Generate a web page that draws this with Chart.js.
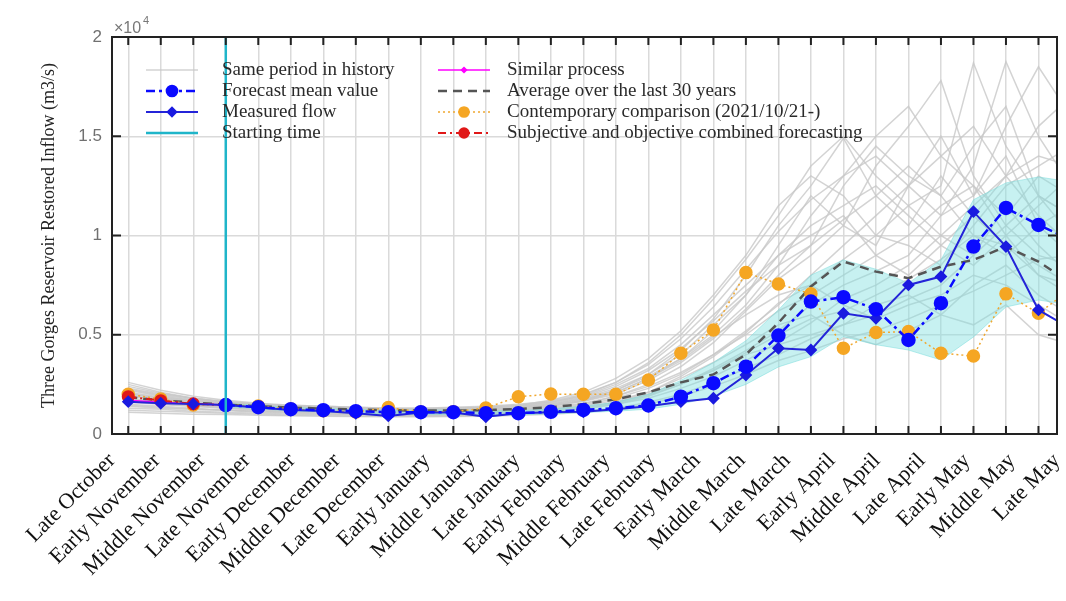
<!DOCTYPE html>
<html>
<head>
<meta charset="utf-8">
<script src="https://cdn.jsdelivr.net/npm/chart.js@4.4.1/dist/chart.umd.min.js"></script>
<style>
  html, body { margin: 0; padding: 0; background: #fff; }
</style>
</head>
<body>
<canvas id="c" width="1066" height="601"></canvas>
<script>
// x labels (dekads) shown under the axis
const periods = ['Late October', 'Early November', 'Middle November', 'Late November',
  'Early December', 'Middle December', 'Late December', 'Early January', 'Middle January',
  'Late January', 'Early February', 'Middle February', 'Late February', 'Early March',
  'Middle March', 'Late March', 'Early April', 'Middle April', 'Late April', 'Early May',
  'Middle May', 'Late May'];

// same period in history (m3/s), one row per year
const history = [
  [2200,1900,1700,1550,1450,1350,1300,1250,1200,1200,1250,1300,1400,1500,1800,2300,3000,4200,5800,8000,10500,12500,14900,12000,10500,13000,11000,9500,8000,7500],
  [1800,1650,1500,1400,1300,1250,1200,1150,1100,1100,1100,1150,1200,1300,1500,1900,2500,3400,4600,6200,7800,9000,10500,13500,15500,17800,13000,10500,9000,8500],
  [2500,2100,1800,1650,1500,1400,1350,1300,1250,1250,1300,1350,1450,1700,2100,2800,3800,5200,7000,9000,11500,13000,12000,10000,11500,12500,18700,14500,12000,11000],
  [1500,1400,1300,1200,1150,1100,1050,1000,1000,950,950,1000,1050,1100,1250,1500,1900,2500,3300,4200,5200,6500,7500,8200,9000,11000,13500,18760,15000,12500],
  [1200,1150,1100,1050,1000,950,950,900,900,900,900,950,1000,1050,1150,1300,1600,2000,2600,3300,4000,4800,5500,6000,6800,7500,9000,10500,12000,11000],
  [2000,1800,1650,1500,1400,1300,1250,1200,1150,1150,1150,1200,1300,1400,1700,2200,2900,3800,5000,6500,8500,11000,13000,14000,12500,11000,12000,15500,18500,16000],
  [1700,1600,1450,1350,1250,1200,1150,1100,1050,1050,1050,1100,1150,1250,1400,1700,2100,2800,3600,4500,5500,6000,5000,4500,5200,6000,7500,8500,7000,6000],
  [2300,2000,1800,1600,1500,1450,1400,1350,1300,1300,1300,1350,1450,1600,1900,2500,3300,4500,6000,7500,9000,10000,11000,9000,8000,9500,11000,13000,14000,13500],
  [1400,1300,1250,1200,1150,1100,1050,1050,1000,1000,1000,1050,1100,1200,1350,1600,2000,2600,3200,4000,4500,5000,5500,6500,7000,6000,5500,6500,5000,4500],
  [1900,1750,1600,1450,1350,1300,1250,1200,1200,1150,1150,1200,1250,1350,1550,1900,2400,3100,4000,5200,6500,8000,9500,11000,12500,14000,15500,13000,11000,9500],
  [1100,1050,1000,980,950,920,900,880,870,870,880,900,950,1000,1100,1250,1500,1900,2400,3000,3700,4200,4800,5200,5800,6500,7200,8000,8800,9000],
  [2100,1850,1700,1550,1450,1400,1350,1300,1250,1250,1250,1300,1350,1450,1650,2000,2700,3600,4800,6300,8000,9500,10800,12000,13500,12000,10000,9000,10500,11500],
  [1600,1500,1400,1300,1200,1150,1100,1050,1050,1000,1000,1050,1100,1200,1300,1500,1800,2300,2900,3700,4600,5600,6800,7500,8500,10000,9000,11500,9500,8000],
  [2600,2200,1900,1700,1550,1450,1400,1350,1300,1300,1350,1400,1500,1650,2000,2600,3500,4800,6400,8300,10200,11800,13000,15000,16500,14000,12500,11000,13000,12000],
  [1950,1700,1550,1450,1350,1300,1250,1200,1150,1150,1200,1250,1350,1500,1750,2200,3000,4000,5500,7000,9500,12000,10500,9500,12500,15000,12000,14000,10500,9000],
  [1300,1250,1150,1100,1050,1000,1000,950,950,950,950,1000,1050,1150,1300,1600,2100,2900,3900,5100,6600,7500,8800,10000,9500,8500,10500,12500,13500,14500],
  [2400,2050,1800,1600,1500,1400,1350,1300,1250,1250,1250,1300,1400,1550,1850,2400,3200,4300,5700,7200,8500,9500,12500,14500,13000,12000,14500,16500,12000,10000],
  [1750,1600,1450,1350,1300,1250,1200,1150,1100,1100,1100,1150,1250,1400,1650,2100,2800,3700,4900,6000,7000,7500,6500,5800,6500,7000,8000,7500,6500,5500],
  [2250,1950,1750,1600,1500,1400,1350,1300,1250,1250,1300,1350,1450,1600,1950,2600,3600,5000,6800,8800,11000,13500,15000,13000,11500,10000,11500,13000,15500,17000],
  [1450,1350,1250,1200,1100,1050,1000,1000,950,950,950,1000,1050,1150,1300,1550,1950,2500,3200,4100,5000,5800,6200,7000,7800,8800,10000,9500,8500,7500],
  [2050,1800,1650,1500,1400,1350,1300,1250,1200,1200,1200,1250,1350,1450,1700,2100,2800,3800,5200,7000,9000,10500,11500,12500,11000,9500,8500,10000,11500,13000],
  [1650,1500,1400,1300,1250,1200,1150,1100,1100,1050,1050,1100,1150,1250,1450,1800,2300,3000,4000,5000,6200,7000,8000,9000,10000,11500,12500,10000,8000,7000]
];

// forecast ensemble range (cyan band)
const bandLow  = [null,null,null,1380,1270,1170,1110,1060,1010,1000,990,960,960,1020,1080,1150,1250,1500,1900,2500,3380,3900,4900,4500,4230,3730,4890,6400,6750,6500];
const bandHigh = [null,null,null,1540,1440,1340,1290,1240,1190,1200,1210,1160,1180,1260,1400,1600,2000,2700,3600,4700,6250,8000,8770,8300,7600,8770,11800,12650,12950,12700];

const forecastMean = [null,null,null,1460,1350,1250,1200,1150,1100,1100,1100,1050,1050,1120,1210,1300,1440,1880,2560,3390,4960,6670,6890,6290,4740,6590,9440,11390,10530,9800];
const measured     = [1630,1550,1510,1460,1340,1210,1160,1040,910,1080,1080,870,1040,1100,1120,1250,1400,1630,1800,2970,4320,4230,6080,5830,7510,7930,11200,9440,6250,5300];
const similar      = [1700,1600,1520,1460];
const average30    = [1850,1700,1580,1480,1400,1330,1280,1230,1200,1180,1180,1200,1260,1350,1500,1750,2100,2600,3000,4000,5600,7430,8690,8180,7850,8430,8770,9440,8690,7600];
const contemporary = [2000,1760,1460,1460,1410,1260,1170,1110,1330,1110,1120,1310,1880,2010,2000,2000,2720,4070,5240,8130,7560,7060,4320,5110,5160,4070,3930,7060,6080,7300];
const combined     = [1880,1680,1520,1460];
const startIndex = 3;

const yTicks = [0, 5000, 10000, 15000, 20000];
const steps = 28; // tick marks along x

const pts = arr => arr.map((v, i) => ({ x: i, y: v })).filter(p => p.y != null);

const datasets = [];
history.forEach(row => datasets.push({
  label: 'Same period in history', data: pts(row), borderColor: 'rgba(200,200,200,0.8)',
  borderWidth: 1.5, pointRadius: 0, order: 10
}));
datasets.push({ label: 'band-low', data: pts(bandLow), borderColor: 'rgba(120,220,220,0.5)', borderWidth: 1, pointRadius: 0, order: 9 });
datasets.push({ label: 'band-high', data: pts(bandHigh), borderColor: 'rgba(120,220,220,0.5)', borderWidth: 1, pointRadius: 0,
  fill: { target: datasets.length - 1 }, backgroundColor: 'rgba(130,225,225,0.45)', order: 9 });
datasets.push({ label: 'Average over the last 30 years', data: pts(average30), borderColor: '#555555', borderWidth: 2.5,
  borderDash: [9, 6], pointRadius: 0, order: 6 });
datasets.push({ label: 'Contemporary comparison (2021/10/21-)', data: pts(contemporary), borderColor: '#f0a830',
  borderWidth: 1.5, borderDash: [2, 3], pointRadius: 6, pointStyle: 'circle', pointBackgroundColor: '#f5a623',
  pointBorderColor: '#f5a623', order: 4 });
datasets.push({ label: 'Similar process', data: pts(similar), borderColor: '#ff00ff', borderWidth: 1.5,
  pointRadius: 3, pointStyle: 'rectRot', pointBackgroundColor: '#ff00ff', pointBorderColor: '#ff00ff', order: 5 });
datasets.push({ label: 'Subjective and objective combined forecasting', data: pts(combined), borderColor: '#e01818',
  borderWidth: 2, borderDash: [8, 4, 2, 4], pointRadius: 5.5, pointStyle: 'circle', pointBackgroundColor: '#e01818',
  pointBorderColor: '#e01818', order: 3 });
datasets.push({ label: 'Measured flow', data: pts(measured), borderColor: '#2424d8', borderWidth: 2,
  pointRadius: 5, pointStyle: 'rectRot', pointBackgroundColor: '#1a1ae0', pointBorderColor: '#1a1ae0', order: 2 });
datasets.push({ label: 'Forecast mean value', data: pts(forecastMean), borderColor: '#0a0aff', borderWidth: 2.5,
  borderDash: [9, 4, 3, 4], pointRadius: 6, pointStyle: 'circle', pointBackgroundColor: '#0a0aff',
  pointBorderColor: '#0a0aff', order: 1 });
datasets.push({ label: 'Starting time', data: [{ x: startIndex, y: yTicks[0] }, { x: startIndex, y: yTicks[yTicks.length - 1] }],
  borderColor: '#1fb5c9', borderWidth: 2.5, pointRadius: 0, order: 0 });

const legendCols = [
  ['Same period in history', 'Forecast mean value', 'Measured flow', 'Starting time'],
  ['Similar process', 'Average over the last 30 years', 'Contemporary comparison (2021/10/21-)',
   'Subjective and objective combined forecasting']
];

const framePlugin = {
  id: 'frame',
  afterDatasetsDraw(chart) {
    const { ctx, chartArea: a, scales } = chart;
    ctx.save();
    // inward tick marks
    ctx.strokeStyle = '#222';
    ctx.lineWidth = 2;
    ctx.beginPath();
    for (let i = 0; i <= steps; i++) {
      const x = scales.x.getPixelForValue(i);
      ctx.moveTo(x, a.bottom); ctx.lineTo(x, a.bottom - 8);
      ctx.moveTo(x, a.top); ctx.lineTo(x, a.top + 8);
    }
    yTicks.forEach(v => {
      const y = scales.y.getPixelForValue(v);
      ctx.moveTo(a.left, y); ctx.lineTo(a.left + 9, y);
      ctx.moveTo(a.right, y); ctx.lineTo(a.right - 9, y);
    });
    ctx.stroke();
    ctx.lineWidth = 2;
    ctx.strokeRect(a.left, a.top, a.right - a.left, a.bottom - a.top);

    // exponent
    ctx.fillStyle = '#777';
    ctx.font = '16px "Liberation Sans"';
    ctx.textBaseline = 'alphabetic';
    ctx.fillText('\u00d710', a.left + 2, a.top - 4);
    ctx.font = '11px "Liberation Sans"';
    ctx.fillText('4', a.left + 31, a.top - 13);

    // legend
    const rowY = [70, 91, 112, 133];
    const colX = [[146, 198, 222], [438, 490, 507]];
    ctx.font = '19px "Liberation Serif"';
    ctx.textBaseline = 'middle';
    legendCols.forEach((col, c) => {
      col.forEach((label, r) => {
        const ds = chart.data.datasets.find(d => d.label === label);
        const y = rowY[r];
        const [x0, x1, tx] = colX[c];
        ctx.save();
        ctx.strokeStyle = ds.borderColor;
        ctx.lineWidth = ds.borderWidth;
        ctx.setLineDash(ds.borderDash || []);
        ctx.beginPath(); ctx.moveTo(x0, y); ctx.lineTo(x1, y); ctx.stroke();
        ctx.setLineDash([]);
        if (ds.pointRadius) {
          ctx.fillStyle = ds.pointBackgroundColor;
          ctx.strokeStyle = ds.pointBorderColor;
          Chart.helpers.drawPoint(ctx, { pointStyle: ds.pointStyle, radius: ds.pointRadius * 0.85,
            borderWidth: 1, rotation: 0 }, (x0 + x1) / 2, y);
        }
        ctx.restore();
        ctx.fillStyle = '#2a2a2a';
        ctx.fillText(label, tx, y);
      });
    });
    ctx.restore();
  }
};

new Chart(document.getElementById('c'), {
  type: 'line',
  data: { datasets },
  options: {
    responsive: false,
    animation: false,
    devicePixelRatio: 1,
    layout: { padding: { left: 0, right: 9, top: 37, bottom: 0 } },
    plugins: { legend: { display: false }, tooltip: { enabled: false } },
    elements: { line: { tension: 0 } },
    scales: {
      x: {
        type: 'linear', min: -0.5, max: 28.57,
        afterBuildTicks: s => { s.ticks = Array.from({ length: steps + 1 }, (_, i) => ({ value: i })); },
        ticks: { display: false },
        grid: { color: '#dadada', lineWidth: 1.5, drawTicks: false },
        border: { display: false },
        afterFit: s => { s.height = 0; s.paddingLeft = 0; s.paddingRight = 0; }
      },
      x2: {
        type: 'category', labels: periods, position: 'bottom', offset: false,
        grid: { display: false, drawTicks: false }, border: { display: false },
        ticks: { autoSkip: false, minRotation: 45, maxRotation: 45, padding: 14, color: '#111',
          font: { family: 'Liberation Serif', size: 22 } },
        afterFit: s => { s.height = 167; s.paddingLeft = 0; s.paddingRight = 0; }
      },
      y: {
        min: yTicks[0], max: yTicks[yTicks.length - 1],
        afterBuildTicks: s => { s.ticks = yTicks.map(v => ({ value: v })); },
        ticks: { callback: v => String(v / 10000), color: '#707070', padding: 10,
          font: { family: 'Liberation Sans', size: 17 } },
        grid: { color: '#dadada', lineWidth: 1.5, drawTicks: false },
        border: { display: false },
        title: { display: true, text: 'Three Gorges Reservoir Restored Inflow (m3/s)', color: '#222',
          font: { family: 'Liberation Serif', size: 18 }, padding: { top: 38, bottom: 0 } },
        afterFit: s => { s.width = 112; s.paddingTop = 0; s.paddingBottom = 0; }
      }
    }
  },
  plugins: [framePlugin]
});
</script>
</body>
</html>
